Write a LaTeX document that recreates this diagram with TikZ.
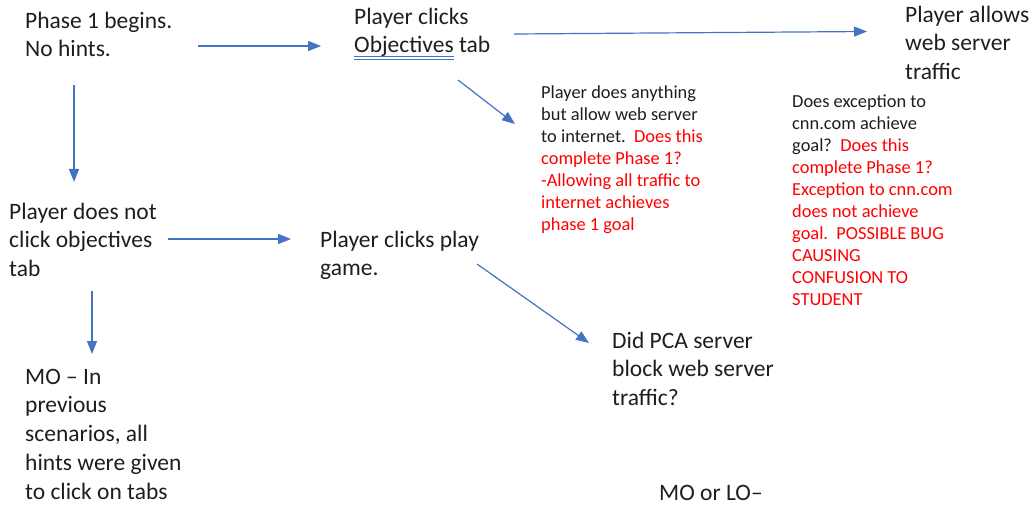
\documentclass[tikz,border=0pt]{standalone}
\usepackage{fontspec}
\setmainfont{Carlito}
\usetikzlibrary{arrows.meta}
\definecolor{flow}{HTML}{4472C4}
\definecolor{note}{HTML}{FF0000}
\definecolor{ink}{HTML}{1E1E1E}
% blue double underline (proofing mark) under a word
\newcommand\dblunder[1]{\setbox0\hbox{#1}%
  \rlap{\textcolor{flow}{\rule[-3.6pt]{\wd0}{0.7pt}}}%
  \rlap{\textcolor{flow}{\rule[-6.4pt]{\wd0}{0.7pt}}}\box0\relax}
\newcommand\rd[1]{\textcolor{note}{#1}}
\tikzset{
  bigtext/.style={anchor=north west, inner sep=0pt, align=left, text=ink,
    font=\fontsize{23.5}{28.7}\selectfont, yshift=20.09pt},
  smalltext/.style={anchor=north west, inner sep=0pt, align=left, text=ink,
    font=\fontsize{18.4}{22}\selectfont, yshift=15.4pt},
  flowarrow/.style={draw=flow, line width=1.2pt,
    -{Triangle[length=13pt,width=10pt]}},
}
\begin{document}
\begin{tikzpicture}[x=1pt,y=-1pt]
\useasboundingbox (0,0) rectangle (1032,505);

% first-line baselines are the node coordinates
\node[bigtext] (start) at (25,28) {\strut Phase 1 begins.\\No hints.};
\node[bigtext] (objtab) at (354,24) {\strut Player clicks\\\dblunder{Objectives} tab};
\node[bigtext] (allow) at (905,22) {\strut Player allows\\web server\\traffic};
\node[smalltext] (anything) at (541,98) {\strut Player does anything\\but allow web server\\to internet.\hspace{0.45em}\rd{Does this}\\\rd{complete Phase 1?}\\\rd{-Allowing all traffic to}\\\rd{internet achieves}\\\rd{phase 1 goal}};
\node[smalltext] (cnn) at (792,107) {\strut Does exception to\\cnn.com achieve\\goal?\hspace{0.45em}\rd{Does this}\\\rd{complete Phase 1?}\\\rd{Exception to cnn.com}\\\rd{does not achieve}\\\rd{goal.\hspace{0.45em}POSSIBLE BUG}\\\rd{CAUSING}\\\rd{CONFUSION TO}\\\rd{STUDENT}};
\node[bigtext] (noobj) at (9,219) {\strut Player does not\\click objectives\\tab};
\node[bigtext] (play) at (320,247) {\strut Player clicks play\\game.};
\node[bigtext] (mo) at (25,384) {\strut MO -- In\\previous\\scenarios, all\\hints were given\\to click on tabs};
\node[bigtext] (pca) at (612,348) {\strut Did PCA server\\block web server\\traffic?};
\node[bigtext] (molo) at (659,500) {\strut MO or LO--};

% connector end points
\coordinate (a1s) at (198,46);  \coordinate (a1e) at (321,46);
\coordinate (a2s) at (514,34);  \coordinate (a2e) at (867,31.5);
\coordinate (a3s) at (458,80);  \coordinate (a3e) at (515,124);
\coordinate (a4s) at (74,85);   \coordinate (a4e) at (74,182);
\coordinate (a5s) at (168,239); \coordinate (a5e) at (291,239);
\coordinate (a6s) at (92,291);  \coordinate (a6e) at (92,354);
\coordinate (a7s) at (477,264); \coordinate (a7e) at (589,343);

\draw[flowarrow] (a1s) -- (a1e);
\draw[flowarrow] (a2s) -- (a2e);
\draw[flowarrow] (a3s) -- (a3e);
\draw[flowarrow] (a4s) -- (a4e);
\draw[flowarrow] (a5s) -- (a5e);
\draw[flowarrow] (a6s) -- (a6e);
\draw[flowarrow] (a7s) -- (a7e);
\end{tikzpicture}
\end{document}
